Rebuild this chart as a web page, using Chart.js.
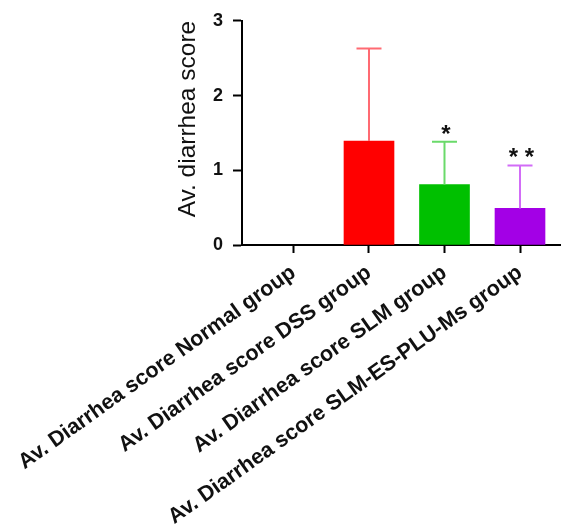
<!DOCTYPE html>
<html>
<head>
<meta charset="utf-8">
<script src="https://cdn.jsdelivr.net/npm/chart.js@4.4.1/dist/chart.umd.min.js"></script>
<style>
  html, body { margin: 0; padding: 0; background: #fff; }
  #wrap { width: 561px; height: 524px; }
</style>
</head>
<body>
<div id="wrap"><canvas id="chart"></canvas></div>
<script>
// ---------- data ----------
const categories = [
  'Av. Diarrhea score Normal group',
  'Av. Diarrhea score DSS group',
  'Av. Diarrhea score SLM group',
  'Av. Diarrhea score SLM-ES-PLU-Ms group',
];
const means = [0, 1.39, 0.81, 0.49];
const sds = [0, 1.24, 0.57, 0.575];
const marks = ['', '', '*', '* *'];
const yTicks = [0, 1, 2, 3];

// ---------- styles ----------
const barColors = ['#000000', '#ff0000', '#00c000', '#a300e6'];
const errColors = ['#000000', '#ff6a72', '#6ada6a', '#d26cf7'];
const FONT = "'Liberation Sans', Arial, sans-serif";

// error bars + significance stars
const errorBarPlugin = {
  id: 'errorBars',
  afterDatasetsDraw(chart) {
    const { ctx, scales: { x, y } } = chart;
    ctx.save();
    means.forEach((m, i) => {
      if (!sds[i]) return;
      const px = x.getPixelForValue(i);
      const top = y.getPixelForValue(m + sds[i]);
      const base = y.getPixelForValue(m);
      ctx.strokeStyle = errColors[i];
      ctx.lineWidth = 2;
      ctx.beginPath();
      ctx.moveTo(px, base);
      ctx.lineTo(px, top);
      ctx.moveTo(px - 12.5, top);
      ctx.lineTo(px + 12.5, top);
      ctx.stroke();

      if (marks[i]) {
        ctx.fillStyle = '#111';
        ctx.font = 'bold 24px ' + FONT;
        ctx.textAlign = 'center';
        ctx.textBaseline = 'alphabetic';
        const mt = ctx.measureText(marks[i]);
        const cy = top - 12.5;
        const off = (mt.actualBoundingBoxAscent - mt.actualBoundingBoxDescent) / 2;
        ctx.fillText(marks[i], px + 1.5, cy + off);
      }
    });
    ctx.restore();
  }
};

const ctx = document.getElementById('chart').getContext('2d');
new Chart(ctx, {
  type: 'bar',
  data: {
    datasets: [{
      data: means.map((v, i) => ({ x: i, y: v })),
      backgroundColor: barColors,
      borderWidth: 0,
      barThickness: 50,
    }]
  },
  options: {
    responsive: true,
    maintainAspectRatio: false,
    animation: false,
    layout: { padding: { top: 15, right: 0, bottom: 0, left: 0 } },
    plugins: {
      legend: { display: false },
      tooltip: { enabled: false },
    },
    scales: {
      x: {
        type: 'linear',
        offset: false,
        min: -0.682,
        max: 3.543,
        afterBuildTicks: s => { s.ticks = categories.map((_, i) => ({ value: i })); },
        afterFit: s => {
          s.height = 279;
          s.paddingLeft = 0;
          s.paddingRight = 0;
        },
        border: { display: true, color: '#000', width: 2 },
        grid: { offset: false, drawOnChartArea: false, drawTicks: true, tickLength: 8, tickWidth: 2, tickColor: '#000' },
        ticks: {
          autoSkip: false,
          minRotation: 35.5,
          maxRotation: 35.5,
          padding: 7,
          color: '#111',
          font: { family: FONT, size: 21.5, weight: 'bold' },
          callback: v => categories[v] ?? '',
        },
      },
      y: {
        min: 0,
        max: 3,
        afterBuildTicks: s => { s.ticks = yTicks.map(v => ({ value: v })); },
        afterFit: s => { s.width = 242; },
        border: { display: true, color: '#000', width: 2 },
        grid: { drawOnChartArea: false, drawTicks: true, tickLength: 9, tickWidth: 2, tickColor: '#000' },
        ticks: {
          padding: 10,
          color: '#111',
          font: { family: FONT, size: 18, weight: 'bold' },
        },
        title: {
          display: true,
          text: 'Av. diarrhea score',
          align: 'end',
          color: '#111',
          font: { family: FONT, size: 24.5 },
          padding: { top: 174, bottom: 0 },
        },
      },
    },
  },
  plugins: [errorBarPlugin],
});
</script>
</body>
</html>
